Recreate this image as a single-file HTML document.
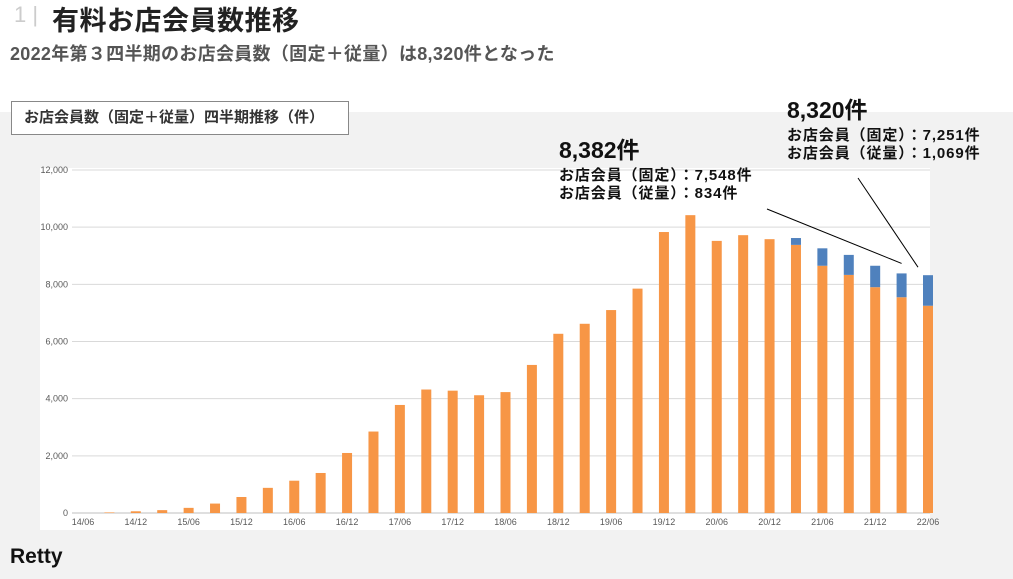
<!DOCTYPE html>
<html><head><meta charset="utf-8"><style>
body{margin:0;width:1013px;height:579px;overflow:hidden;background:#fff;font-family:"Liberation Sans","Noto Sans CJK JP",sans-serif;}
.abs{position:absolute;white-space:nowrap;}
</style></head><body>
<div style="position:relative;width:1013px;height:579px;">
<div class="abs" style="left:0;top:112px;width:1013px;height:467px;background:#f2f2f2;"></div>
<div class="abs" style="left:14px;top:2px;font-size:22px;color:#ccc;">1 |</div>
<div class="abs" style="left:52px;top:-1px;font-size:27px;font-weight:bold;color:#222;letter-spacing:0.5px;">有料お店会員数推移</div>
<div class="abs" style="left:10px;top:40px;font-size:18px;font-weight:bold;color:#555;letter-spacing:0.3px;">2022年第３四半期のお店会員数（固定＋従量）は8,320件となった</div>
<div class="abs" style="left:11px;top:101px;width:324px;height:32px;border:1px solid #888;background:#fff;font-size:15px;font-weight:bold;color:#333;line-height:32px;padding-left:12px;">お店会員数（固定＋従量）四半期推移（件）</div>
<svg id="chart" class="abs" style="left:0;top:0;" width="1013" height="579"></svg>
<div class="abs" style="left:559px;top:131px;color:#111;">
<div style="font-size:23px;font-weight:bold;">8,382件</div>
<div style="font-size:15px;font-weight:bold;line-height:18px;margin-top:2px;letter-spacing:0.9px;">お店会員（固定）：7,548件<br>お店会員（従量）：834件</div></div>
<div class="abs" style="left:787px;top:91px;color:#111;">
<div style="font-size:23px;font-weight:bold;">8,320件</div>
<div style="font-size:15px;font-weight:bold;line-height:18px;margin-top:2px;letter-spacing:0.9px;">お店会員（固定）：7,251件<br>お店会員（従量）：1,069件</div></div>
<div class="abs" style="left:10px;top:545px;font-size:21px;font-weight:bold;color:#111;">Retty</div>
</div>
<script>
const categories=["14/06","14/09","14/12","15/03","15/06","15/09","15/12","16/03","16/06","16/09","16/12","17/03","17/06","17/09","17/12","18/03","18/06","18/09","18/12","19/03","19/06","19/09","19/12","20/03","20/06","20/09","20/12","21/03","21/06","21/09","21/12","22/03","22/06"];
const fixedValues=[0,20,60,100,180,330,560,880,1130,1400,2100,2850,3780,4320,4280,4120,4230,5180,6270,6620,7100,7850,9830,10420,9520,9720,9580,9380,8650,8330,7900,7548,7251];
const payValues=[0,0,0,0,0,0,0,0,0,0,0,0,0,0,0,0,0,0,0,0,0,0,0,0,0,0,0,240,610,700,750,834,1069];
const yTicks=[0,2000,4000,6000,8000,10000,12000];
const yTickLabels=["0","2,000","4,000","6,000","8,000","10,000","12,000"];
const svg=document.getElementById('chart');const NS='http://www.w3.org/2000/svg';
const x0=83,x1=928,yBase=513,yTop=170,yMax=12000;
const xs=i=>x0+i*(x1-x0)/(categories.length-1);
const ys=v=>yBase-v*(yBase-yTop)/yMax;
function mk(t,a){const e=document.createElementNS(NS,t);for(const k in a)e.setAttribute(k,a[k]);svg.appendChild(e);return e;}
const bg=mk('rect',{x:40,y:168,width:890,height:362,fill:'#fff'});


yTicks.forEach((v,i)=>{
 const g=mk('line',{x1:72,x2:930,y1:ys(v),y2:ys(v),stroke:v===0?'#bfbfbf':'#d9d9d9','stroke-width':1});
 
 
 const t=mk('text',{x:68,y:ys(v)+3,'text-anchor':'end','font-size':9,fill:'#595959'});t.textContent=yTickLabels[i];
 
 
});
categories.forEach((c,i)=>{
 const x=xs(i),w=10;
 const b=mk('rect',{x:x-w/2,y:ys(fixedValues[i]),width:w,height:yBase-ys(fixedValues[i]),fill:'#f79646'});
 
 
 if(payValues[i]>0){
  const tot=fixedValues[i]+payValues[i];
  const p=mk('rect',{x:x-w/2,y:ys(tot),width:w,height:ys(fixedValues[i])-ys(tot),fill:'#4f81bd'});
  
  
 }
 if(i%2===0){
  const t=mk('text',{x:x,y:525,'text-anchor':'middle','font-size':9,fill:'#595959'});t.textContent=c;
  
  
 }
});
const n=categories.length;
const l1=mk('line',{x1:767,y1:209,x2:xs(n-2),y2:ys(fixedValues[n-2]+payValues[n-2])-10,stroke:'#000','stroke-width':1});


const l2=mk('line',{x1:858,y1:178,x2:xs(n-1)-10,y2:ys(fixedValues[n-1]+payValues[n-1])-8,stroke:'#000','stroke-width':1});


</script>
</body></html>
